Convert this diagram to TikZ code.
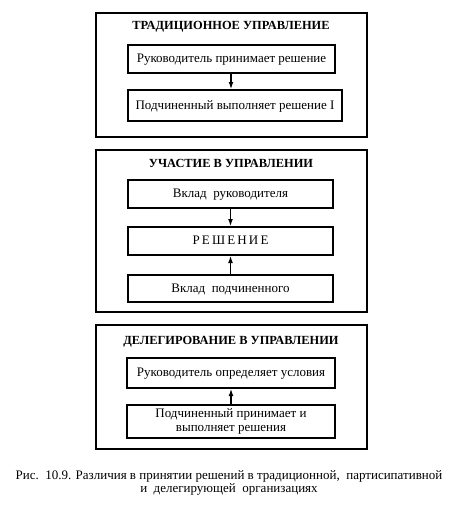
\documentclass[tikz,border=0pt]{standalone}
\usepackage{fontspec}
\setmainfont{Liberation Serif}
\usepackage{tikz}
\usetikzlibrary{positioning,arrows.meta}

\begin{document}
\begin{tikzpicture}[
        x=1pt, y=-1pt,
        >={Latex[length=2.6mm,width=1.7mm]},
        frame/.style={draw=black, line width=1.6pt},
        heading/.style={font=\fontsize{12.4}{13}\selectfont\bfseries, inner sep=0pt},
        stage/.style={rectangle, draw=black, line width=1.2pt, align=center, inner sep=2pt, text depth=1.5pt, font=\fontsize{13}{14}\selectfont},
        arrow/.style={->, line width=1.4pt}
    ]
    \useasboundingbox (0,0) rectangle (457,507);

    % traditional management
    \draw[frame] (96,13) rectangle (367,137);
    \node[heading] (t0) at (231,27) {ТРАДИЦИОННОЕ УПРАВЛЕНИЕ};
    \node[stage, minimum width=207pt, minimum height=28pt] (t1) at (231.5,59) {Руководитель принимает решение};
    \node[stage, minimum width=214pt, minimum height=31pt] (t2) at (235,105.5) {Подчиненный выполняет решение I};
    \draw[arrow] (t1.south -| 231,0) -- (t2.north -| 231,0);

    % participation
    \draw[frame] (96,150) rectangle (367,312);
    \node[heading] (p0) at (231,163) {УЧАСТИЕ В УПРАВЛЕНИИ};
    \node[stage, minimum width=205pt, minimum height=28pt] (p1) at (230.5,194) {Вклад\ \ руководителя};
    \node[stage, minimum width=205pt, minimum height=28pt] (p2) at (230.5,241) {Р\,Е\,Ш\,Е\,Н\,И\,Е};
    \node[stage, minimum width=205pt, minimum height=27pt] (p3) at (230.5,288.5) {Вклад\ \ подчиненного};
    \draw[arrow] (p1) -- (p2);
    \draw[arrow] (p3) -- (p2);

    % delegation
    \draw[frame] (96,325) rectangle (367,449);
    \node[heading] (d0) at (231,342) {ДЕЛЕГИРОВАНИЕ В УПРАВЛЕНИИ};
    \node[stage, minimum width=208pt, minimum height=30pt] (d1) at (231,373) {Руководитель определяет условия};
    \node[stage, minimum width=208pt, minimum height=33pt, text depth=] (d2) at (231,421.5) {Подчиненный принимает и\\выполняет решения};
    \draw[arrow] (d2) -- (d1);

    % caption
    \node[align=center, inner sep=0pt, font=\fontsize{13}{11.5}\selectfont] (cap) at (229,483) {Рис.\ \ 10.9. Различия\ в\ принятии\ решений\ в\ традиционной,\ \ партисипативной\\и\ \ делегирующей\ \ организациях};
\end{tikzpicture}
\end{document}
